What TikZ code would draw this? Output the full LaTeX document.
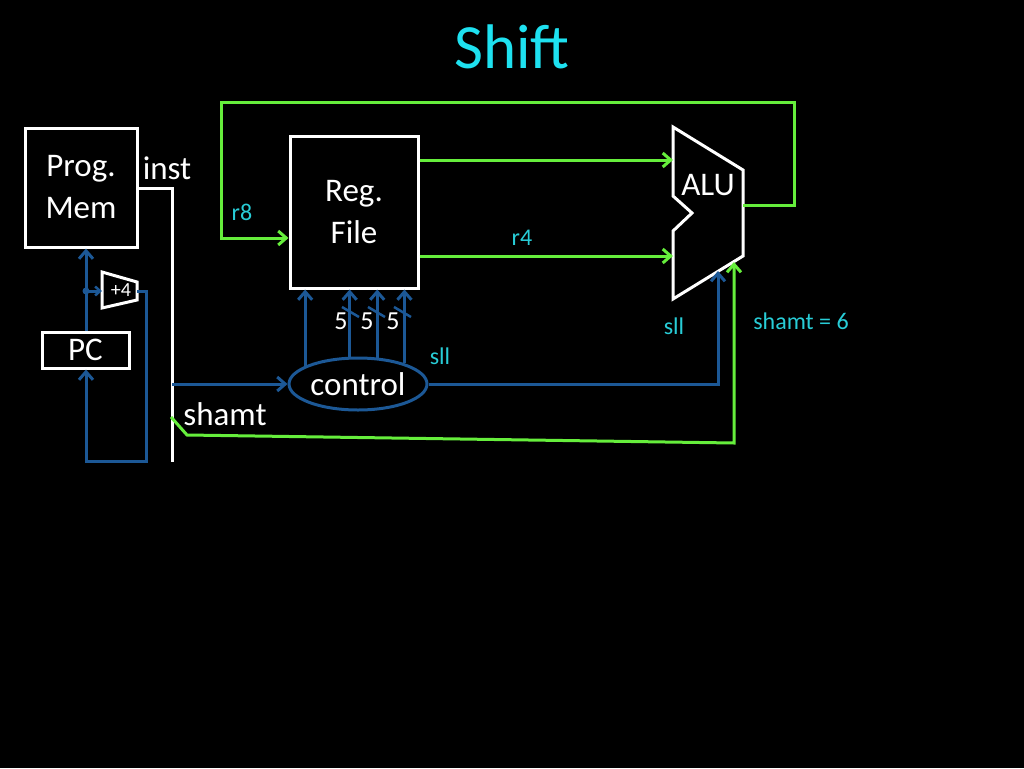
\documentclass[tikz,border=0pt]{standalone}
\usepackage{fontspec}
\setmainfont{Carlito}
\usetikzlibrary{arrows.meta,shapes.geometric}
\definecolor{wblue}{RGB}{28,88,150}
\definecolor{wgreen}{RGB}{102,238,60}
\definecolor{tcyan}{RGB}{30,225,240}
\definecolor{lcyan}{RGB}{40,205,215}
\begin{document}
\begin{tikzpicture}[x=1pt,y=-1pt,
  box/.style={draw=white,line width=3pt,text=white,inner sep=0pt,align=center,font=\fontsize{33}{42}\selectfont},
  bl/.style={draw=wblue,line width=3pt},
  gr/.style={draw=wgreen,line width=3pt},
  wh/.style={draw=white,line width=3pt},
  arr/.style={-{Straight Barb[length=8pt,width=14pt,line width=3pt]}},
  wlabel/.style={text=white,inner sep=0pt,font=\fontsize{33}{40}\selectfont},
  clabel/.style={text=lcyan,inner sep=0pt,font=\fontsize{24}{28}\selectfont},
  numlabel/.style={text=white,inner sep=0pt,font=\fontsize{26}{30}\selectfont},
  slash/.style={draw=wblue,line width=2.5pt}
]
\fill[black] (0,0) rectangle (1024,768);
\useasboundingbox (0,0) rectangle (1024,768);

% title
\node[text=tcyan,font=\fontsize{63}{72}\selectfont] (title) at (512,47) {Shift};

% boxes
\node[box,minimum width=112pt,minimum height=119pt] (pm) at (81,187.5) {Prog.\\Mem};
\node[box,minimum width=87pt,minimum height=36pt] (pc) at (85.5,350) {PC};
\node[box,minimum width=128pt,minimum height=152pt] (rf) at (354,212) {Reg.\\File};
\node[ellipse,draw=wblue,line width=3pt,minimum width=138pt,minimum height=52pt,inner sep=0pt,text=white,font=\fontsize{33}{40}\selectfont] (ctl) at (358,384) {control};

% ALU
\coordinate (alutl) at (673,127);
\coordinate (alutr) at (743,170);
\coordinate (alubr) at (743,256);
\coordinate (alubl) at (673,299);
\draw[wh,line join=miter] (alutl) -- (alutr) -- (alubr) -- (alubl) -- (673,231) -- (692,213) -- (673,196) -- cycle;
\node[text=white,inner sep=0pt,font=\fontsize{33}{40}\selectfont] (alu) at (708,185) {ALU};
\coordinate (aluin1) at (673,160);
\coordinate (aluin2) at (673,256);
\coordinate (aluout) at (743,205);
\coordinate (alusll) at (718,271);
\coordinate (alush) at (734,262);

% +4 adder
\coordinate (p4in) at (102,291);
\coordinate (p4out) at (137,291);
\draw[wh,line join=miter] (102,272) -- (137,282) -- (137,300) -- (102,308) -- cycle;
\node[text=white,inner sep=0pt,font=\fontsize{20}{24}\selectfont] (plus4) at (121,290) {+4};

% inst bus
\coordinate (instc) at (172,188);
\coordinate (instb) at (172,462);
\draw[wh] (pm.east |- instc) -- (instc) -- (instb);
\node[wlabel] (inst) at (167,168) {inst};

% PC loop
\coordinate (dot) at (86,291);
\draw[bl,arr] (dot |- pc.north) -- (dot |- pm.south);
\fill[wblue] (dot) circle (3.5pt);
\draw[bl,-{Straight Barb[length=5pt,width=9pt,line width=2.5pt]}] (dot) -- (p4in);
\draw[bl,arr] (p4out) -- (146,291) -- (146,461) -- (86,461) -- (dot |- pc.south);

% inst to control
\coordinate (ctlin) at (172,384);
\draw[bl,arr] (ctlin) -- (ctl.west);

% control to reg file
\draw[bl,arr] (ctl.161) -- (ctl.161 |- rf.south);
\draw[bl,arr] (ctl.107) -- (ctl.107 |- rf.south);
\draw[bl,arr] (ctl.54) -- (ctl.54 |- rf.south);
\draw[bl,arr] (ctl.24.5) -- (ctl.24.5 |- rf.south);
\foreach \x in {350,376,402} \draw[slash] (\x-8,307) -- (\x+9,317);
\node[numlabel] (n1) at (341,321) {5};
\node[numlabel] (n2) at (367,321) {5};
\node[numlabel] (n3) at (393,321) {5};

% control to ALU
\draw[bl,arr] (ctl.east) -- (ctl.east -| alusll) -- (alusll);
\node[clabel] (sll1) at (440,356) {sll};
\node[clabel] (sll2) at (674,326) {sll};

% shamt
\draw[gr,arr] (171,417) -- (187,435) -- (734,443) -- (alush);
\node[wlabel] (shamt) at (225,414) {shamt};
\node[clabel] (shamt6) at (801,321) {shamt = 6};

% reg file to ALU
\draw[gr,arr] (rf.east |- aluin1) -- (aluin1);
\draw[gr,arr] (rf.east |- aluin2) -- (aluin2);
\node[clabel] (r4) at (522,238) {r4};

% writeback loop
\coordinate (wb) at (221,238);
\draw[gr,arr] (aluout) -- (794,205) -- (794,102) -- (221,102) -- (wb) -- (rf.west |- wb);
\node[clabel] (r8) at (242,212) {r8};
\end{tikzpicture}
\end{document}
